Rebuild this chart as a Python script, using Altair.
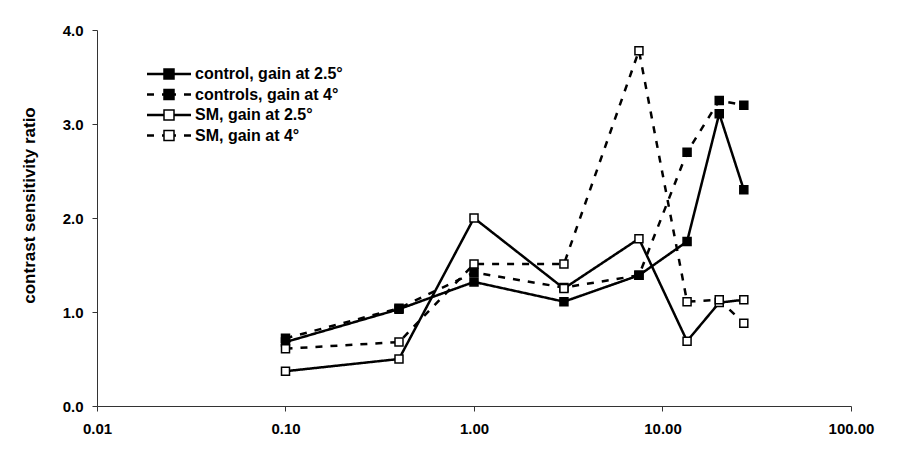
import altair as alt
import pandas as pd

# spatial frequency (x) values
freq = [0.1, 0.4, 1.0, 3.0, 7.5, 13.5, 20.0, 27.0]

# contrast sensitivity ratio per series
control_25 = [0.68, 1.03, 1.32, 1.11, 1.39, 1.75, 3.11, 2.30]
controls_4 = [0.72, 1.04, 1.42, 1.26, 1.39, 2.70, 3.25, 3.20]
sm_25 = [0.37, 0.50, 2.00, 1.25, 1.78, 0.69, 1.10, 1.13]
sm_4 = [0.61, 0.68, 1.51, 1.51, 3.78, 1.11, 1.13, 0.88]

series_names = [
    "control, gain at 2.5°",
    "controls, gain at 4°",
    "SM, gain at 2.5°",
    "SM, gain at 4°",
]
x_ticks = [0.01, 0.1, 1, 10, 100]
y_ticks = [0, 1, 2, 3, 4]

rows = []
for name, vals in zip(series_names, [control_25, controls_4, sm_25, sm_4]):
    for f, v in zip(freq, vals):
        rows.append({"freq": f, "ratio": v, "series": name, "series2": name})
df = pd.DataFrame(rows)

FONT = "Liberation Sans"

x_enc = alt.X(
    "freq:Q",
    scale=alt.Scale(type="log", domain=[0.01, 100], nice=False),
    axis=alt.Axis(values=x_ticks, format=".2f", title=None, labelPadding=10, labelFlush=False),
)
y_enc = alt.Y(
    "ratio:Q",
    scale=alt.Scale(domain=[0, 4], nice=False),
    axis=alt.Axis(
        values=y_ticks,
        format=".1f",
        title="contrast sensitivity ratio",
        titleFont=FONT,
        titleFontSize=17,
        titleFontWeight="bold",
        titleColor="black",
        titleAngle=270,
        titleAlign="center",
        titleBaseline="middle",
        titleX=-68,
        titleY=175,
        labelPadding=9,
        labelFlush=False,
    ),
)

lines = alt.Chart(df).mark_line(color="black", strokeWidth=2.5).encode(
    x=x_enc,
    y=y_enc,
    strokeDash=alt.StrokeDash(
        "series:N",
        scale=alt.Scale(domain=series_names, range=[[1, 0], [7, 8], [1, 0], [7, 8]]),
        legend=alt.Legend(
            title=None,
            orient="none",
            legendX=64,
            legendY=36,
            symbolType="M-4.4,0H-1M4.4,0H1",
            symbolSize=100,
            symbolStrokeWidth=2.5,
            symbolStrokeColor="black",
            symbolFillColor="transparent",
            labelFont=FONT,
            labelFontSize=16,
            labelFontWeight="bold",
            labelColor="black",
            labelOffset=18,
            rowPadding=4.5,
            padding=0,
        ),
    ),
)

points = alt.Chart(df).mark_point(
    shape="square", filled=True, size=64, stroke="black", strokeWidth=1.5, opacity=1
).encode(
    x=x_enc,
    y=y_enc,
    fill=alt.Fill(
        "series2:N",
        scale=alt.Scale(domain=series_names, range=["black", "black", "white", "white"]),
        legend=alt.Legend(
            title=None,
            orient="none",
            legendX=64,
            legendY=36,
            symbolType="square",
            symbolSize=100,
            symbolStrokeWidth=1.5,
            symbolStrokeColor="black",
            labelFont=FONT,
            labelFontSize=16,
            labelFontWeight="bold",
            labelOpacity=0,
            labelOffset=18,
            rowPadding=4.5,
            padding=0,
        ),
    ),
)

chart = (
    alt.layer(lines, points)
    .resolve_legend(strokeDash="independent", fill="independent")
    .properties(
        width=754,
        height=376,
        autosize="none",
        padding={"left": 89, "top": 22, "right": 41, "bottom": 40},
        background="white",
    )
    .configure_view(stroke=None)
    .configure_axis(
        grid=False,
        domainColor="#333333",
        domainWidth=1,
        tickColor="#333333",
        tickSize=5,
        labelFont=FONT,
        labelFontSize=15,
        labelFontWeight="bold",
        labelColor="black",
    )
)

chart.save("out.html", embed_options={"renderer": "svg", "actions": False})
